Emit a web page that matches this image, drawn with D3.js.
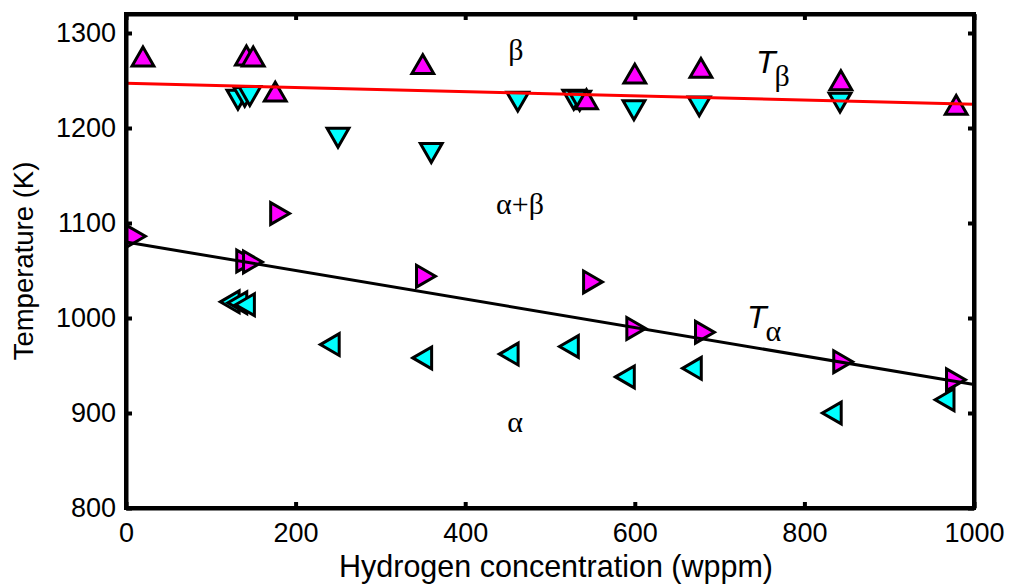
<!DOCTYPE html>
<html><head><meta charset="utf-8">
<script src="https://cdn.jsdelivr.net/npm/d3@7"></script>
<style>body{margin:0;background:#fff}svg{display:block}</style>
</head><body>
<script>
// Data (wppm, K)
const betaTransH = [20, 142, 150, 176, 350, 543, 600, 678, 843, 979];          // magenta up
const betaTransT = [1272, 1273, 1272, 1235, 1264, 1227, 1254, 1260, 1247, 1221];
const betaCoolH = [132, 140, 146, 250, 360, 462, 528, 535, 599, 676, 842];     // cyan down
const betaCoolT = [1233, 1236, 1237, 1193, 1177, 1231, 1233, 1232, 1222, 1226, 1230];
const alphaTransH = [8, 138, 146, 178, 350, 547, 598, 679, 842, 975];          // magenta right
const alphaTransT = [1086, 1060, 1059, 1110, 1044, 1038, 989, 985, 954, 935];
const alphaCoolH = [126, 135, 144, 244, 353, 455, 526, 592, 671, 836, 969];    // cyan left
const alphaCoolT = [1017, 1016, 1014, 972, 958, 962, 970, 938, 947, 900, 914];
const tBetaLine = [[0, 1247], [1000, 1225]];
const tAlphaLine = [[0, 1080], [1000, 930]];
const xTicks = [0, 200, 400, 600, 800, 1000];
const yTicks = [800, 900, 1000, 1100, 1200, 1300];

const W = 1010, H = 586;
const svg = d3.select("body").append("svg").attr("width", W).attr("height", H);
const x = d3.scaleLinear().domain([0, 1000]).range([126, 974]);
const y = d3.scaleLinear().domain([800, 1320]).range([508, 14]);

const MAG = "#ff00ff", CYAN = "#00ffff";
const sans = "'Liberation Sans', Arial, Helvetica, sans-serif";
const serif = "'Liberation Serif', 'Times New Roman', serif";

const plot = svg.append("g");
const sym = d3.symbol().type(d3.symbolTriangle).size(205);

function drawSeries(hs, ts, color, rot) {
  plot.append("g").selectAll("path").data(hs.map((h, i) => [h, ts[i]])).join("path")
    .attr("d", sym)
    .attr("transform", d => `translate(${x(d[0])},${y(d[1])}) rotate(${rot})`)
    .attr("fill", color).attr("stroke", "#000").attr("stroke-width", 3)
    .attr("stroke-linejoin", "miter");
}
drawSeries(betaCoolH, betaCoolT, CYAN, 180);
drawSeries(betaTransH, betaTransT, MAG, 0);
drawSeries(alphaTransH, alphaTransT, MAG, 90);
drawSeries(alphaCoolH, alphaCoolT, CYAN, -90);

const line = d3.line().x(d => x(d[0])).y(d => y(d[1]));
plot.append("path").attr("d", line(tBetaLine)).attr("stroke", "#ff0000").attr("stroke-width", 3).attr("fill", "none");
plot.append("path").attr("d", line(tAlphaLine)).attr("stroke", "#000").attr("stroke-width", 3).attr("fill", "none");

// Axes
const tickLen = 6;
const axB = svg.append("g").attr("transform", `translate(0,${y(800)})`)
  .call(d3.axisBottom(x).tickValues(xTicks).tickSizeInner(-tickLen).tickSizeOuter(0).tickFormat(d3.format("d")));
const axT = svg.append("g").attr("transform", `translate(0,${y(1320)})`)
  .call(d3.axisTop(x).tickValues(xTicks).tickSizeInner(-tickLen).tickSizeOuter(0).tickFormat(""));
const axL = svg.append("g").attr("transform", `translate(${x(0)},0)`)
  .call(d3.axisLeft(y).tickValues(yTicks).tickSizeInner(-tickLen).tickSizeOuter(0).tickPadding(10).tickFormat(d3.format("d")));
const axR = svg.append("g").attr("transform", `translate(${x(1000)},0)`)
  .call(d3.axisRight(y).tickValues(yTicks).tickSizeInner(-tickLen).tickSizeOuter(0).tickFormat(""));
[axB, axT, axL, axR].forEach(a => {
  a.select(".domain").attr("stroke", "#000").attr("stroke-width", 4);
  a.selectAll(".tick line").attr("stroke", "#000").attr("stroke-width", 4);
  a.selectAll(".tick text").attr("fill", "#000").attr("font-family", sans).attr("font-size", 27);
});
axB.selectAll(".tick text").attr("dy", 0).attr("y", 34);
// frame
svg.append("rect").attr("x", x(0)).attr("y", y(1320)).attr("width", x(1000) - x(0)).attr("height", y(800) - y(1320))
  .attr("fill", "none").attr("stroke", "#000").attr("stroke-width", 4);

// Axis labels
svg.append("text").attr("x", 556).attr("y", 577).attr("text-anchor", "middle")
  .attr("font-family", sans).attr("font-size", 30.5).text("Hydrogen concentration (wppm)");
svg.append("text").attr("transform", "translate(33,261) rotate(-90)").attr("text-anchor", "middle")
  .attr("font-family", sans).attr("font-size", 27.5).text("Temperature (K)");

// Region labels
const reg = (tx, ty, t) => svg.append("text").attr("x", tx).attr("y", ty).attr("text-anchor", "middle")
  .attr("font-family", serif).attr("font-size", 30).text(t);
reg(516, 60, "β");
reg(520, 214, "α+β");
reg(515, 432, "α");

// T labels
function tLabel(tx, ty, sub) {
  const t = svg.append("text").attr("x", tx).attr("y", ty).attr("font-size", 32);
  t.append("tspan").attr("font-family", sans).attr("font-style", "italic").text("T");
  t.append("tspan").attr("font-family", serif).attr("font-size", 30).attr("dx", -1).attr("dy", 13).text(sub);
}
tLabel(756, 73, "β");
tLabel(747, 328, "α");
</script>
</body></html>
